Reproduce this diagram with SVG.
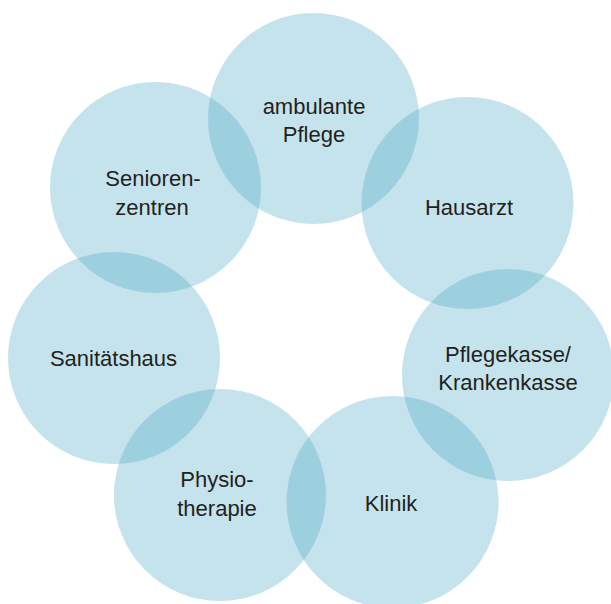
<svg xmlns="http://www.w3.org/2000/svg" width="611" height="604" viewBox="0 0 611 604">
<style>
.c{fill:#4aa9c4;fill-opacity:0.32;stroke:none}
.t{font-family:"Liberation Sans","DejaVu Sans",sans-serif;font-size:22px;fill:#231f20;text-anchor:middle}
</style>
<rect width="611" height="604" fill="#ffffff"/>
<g id="connectors"></g>
<g id="ambulante-pflege"><circle class="c" cx="313.5" cy="118.5" r="105.5"/><text class="t" x="314" y="114">ambulante</text><text class="t" x="314" y="142">Pflege</text></g>
<g id="hausarzt"><circle class="c" cx="467.5" cy="203" r="106"/><text class="t" x="469" y="215">Hausarzt</text></g>
<g id="pflegekasse"><circle class="c" cx="508" cy="375" r="106"/><text class="t" x="508" y="362">Pflegekasse/</text><text class="t" x="508" y="390">Krankenkasse</text></g>
<g id="klinik"><circle class="c" cx="392.5" cy="502" r="106"/><text class="t" x="391" y="511">Klinik</text></g>
<g id="physiotherapie"><circle class="c" cx="220" cy="495" r="106"/><text class="t" x="217" y="487">Physio-</text><text class="t" x="217" y="516">therapie</text></g>
<g id="sanitaetshaus"><circle class="c" cx="114" cy="358" r="106"/><text class="t" x="113.5" y="366">Sanitätshaus</text></g>
<g id="seniorenzentren"><circle class="c" cx="155.5" cy="187.5" r="105.5"/><text class="t" x="153" y="186">Senioren-</text><text class="t" x="152" y="215">zentren</text></g>
</svg>
